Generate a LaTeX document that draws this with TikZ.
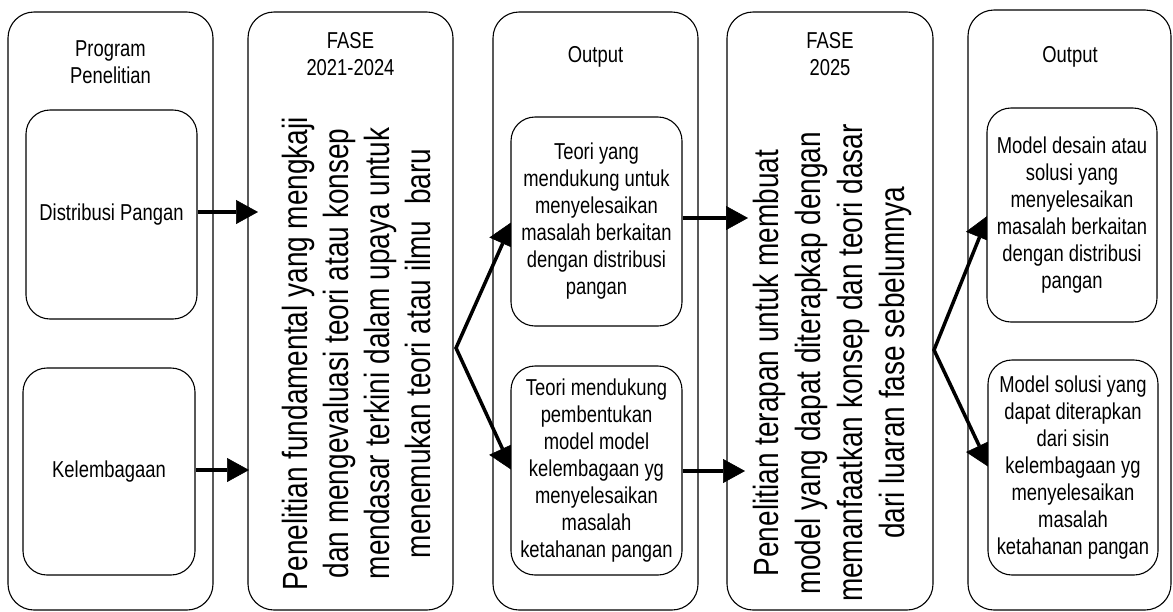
\documentclass[tikz,border=0pt]{standalone}
\usepackage{fontspec}
\setmainfont{Liberation Sans}
\newfontfamily\nar[FakeStretch=0.8]{Liberation Sans}
\usetikzlibrary{arrows.meta}
\pgfdeclarelayer{bg}
\pgfsetlayers{bg,main}
\tikzset{
  colbox/.style={draw=black, line width=1.1pt, rounded corners=26pt, inner sep=0pt,
                 minimum width=205pt, minimum height=598pt},
  inbox/.style={draw=black, fill=white, line width=1.1pt, rounded corners=24pt, inner sep=0pt,
                align=center, font=\nar\fontsize{23}{27}\selectfont},
  lbl/.style={font=\nar\fontsize{23}{27}\selectfont, align=center, inner sep=0pt},
  vlbl/.style={font=\nar\fontsize{35}{41}\selectfont, rotate=90, anchor=base, inner sep=0pt},
  arr/.style={line width=3.5pt, -{Triangle[length=22pt,width=24pt,line width=0.6pt]}},
  barr/.style={line width=3.5pt, line join=miter,
               {Triangle[length=24pt,width=29pt,line width=0.6pt]}-{Triangle[length=24pt,width=29pt,line width=0.6pt]}},
}
\begin{document}
\begin{tikzpicture}[x=1pt,y=-1pt]
\useasboundingbox (0,0) rectangle (1173,611);
% columns
\node[colbox] (c1) at (110.5,311) {};
\node[colbox] (c2) at (350.5,311) {};
\node[colbox] (c3) at (595.5,311) {};
\node[colbox, minimum width=206pt] (c4) at (830,311) {};
\node[colbox, minimum width=203pt, minimum height=600pt] (c5) at (1069.5,310) {};
% titles
\node[lbl] (h1) at (110.5,62) {Program\\Penelitian};
\node[lbl] (h2) at (350.5,54) {FASE\\2021-2024};
\node[lbl, anchor=base] (h3) at (595.5,62.5) {Output};
\node[lbl] (h4) at (830,54) {FASE\\2025};
\node[lbl, anchor=base] (h5) at (1070,62.5) {Output};
% inner boxes
\node[inbox, minimum width=171pt, minimum height=209pt] (dist) at (111.5,214.5) {Distribusi Pangan};
\node[inbox, minimum width=172pt, minimum height=207pt] (kel) at (109,471.5) {Kelembagaan};
\node[inbox, minimum width=171pt, minimum height=209pt] (oA) at (596.5,221.5)
  {Teori yang\\mendukung untuk\\menyelesaikan\\masalah berkaitan\\dengan distribusi\\pangan};
\node[inbox, minimum width=171pt, minimum height=209pt] (oB) at (596.5,470.5)
  {Teori mendukung\\pembentukan\\model model\\kelembagaan yg\\menyelesaikan\\masalah\\ketahanan pangan};
\node[inbox, minimum width=170pt, minimum height=214pt] (oC) at (1072,215)
  {Model desain atau\\solusi yang\\menyelesaikan\\masalah berkaitan\\dengan distribusi\\pangan};
\node[inbox, minimum width=170pt, minimum height=215pt] (oD) at (1073,467.5)
  {Model solusi yang\\dapat diterapkan\\dari sisin\\kelembagaan yg\\menyelesaikan\\masalah\\ketahanan pangan};
% rotated texts, phase 2021-2024
\node[vlbl] (p1) at (307,353.5) {Penelitian fundamental yang mengkaji};
\node[vlbl] (p2) at (348,353.5) {dan mengevaluasi teori atau konsep};
\node[vlbl] (p3) at (389,353.5) {mendasar terkini dalam upaya untuk};
\node[vlbl] (p4) at (430,353.5) {menemukan teori atau ilmu~~baru};
% rotated texts, phase 2025
\node[vlbl] (q1) at (778,363) {Penelitian terapan untuk membuat};
\node[vlbl] (q2) at (820,363) {model yang dapat diterapkap dengan};
\node[vlbl] (q3) at (862,363) {memanfaatkan konsep dan teori dasar};
\node[vlbl] (q4) at (904,363) {dari luaran fase sebelumnya};
% connectors
\coordinate (e1) at (258,212);
\coordinate (e2) at (249,470);
\coordinate (e3) at (748,218);
\coordinate (e4) at (745,471);
\coordinate (br1) at (456,348);
\coordinate (br2) at (934,350);
\begin{pgfonlayer}{bg}
\draw[arr] (dist.east |- e1) -- (e1);
\draw[arr] (kel.east |- e2) -- (e2);
\draw[arr] (oA.east |- e3) -- (e3);
\draw[arr] (oB.east |- e4) -- (e4);
\draw[barr] ([xshift=2pt]oA.west) -- (br1) -- ([xshift=2pt]oB.west);
\draw[barr] ([xshift=2pt]oC.west) -- (br2) -- ([xshift=2pt]oD.west);
\end{pgfonlayer}
\end{tikzpicture}
\end{document}
